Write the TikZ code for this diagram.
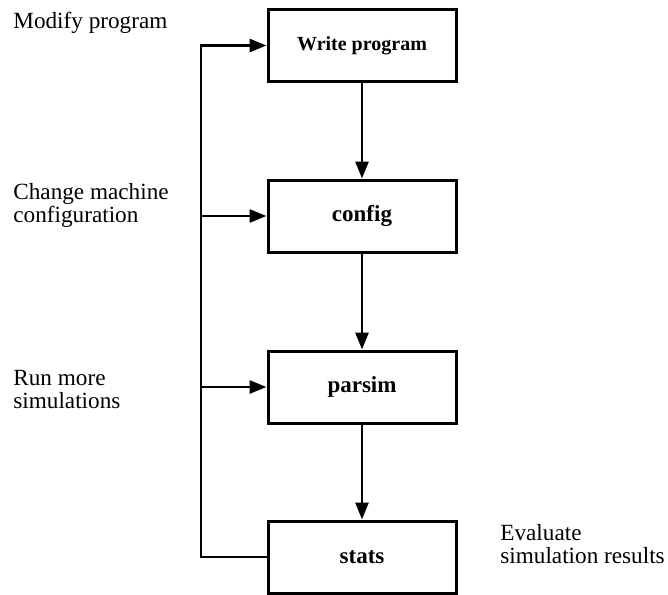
\documentclass[tikz,border=0pt]{standalone}
\usepackage{fontspec}
\setmainfont{Liberation Serif}
\usetikzlibrary{arrows.meta}

\def\boxwidth{94pt}
\def\labelsize{\fontsize{11.6}{11.5}\selectfont}

\tikzset{
  stepbox/.style={draw,line width=1.5pt,minimum width=\boxwidth,
    minimum height=36pt,inner sep=0pt,font=\bfseries\fontsize{11.5}{13}\selectfont},
  link/.style={line width=1.4pt,-{Triangle[length=8.5pt,width=6.5pt]}},
  note/.style={anchor=base west,align=left,inner sep=0pt,font=\labelsize}
}

\begin{document}
\begin{tikzpicture}[x=0.5pt,y=-0.5pt]
  \useasboundingbox (0,0) rectangle (668,594);
  % the four steps
  \node[stepbox,font=\bfseries\fontsize{10}{12}\selectfont] (write) at (362,45.5) {Write program};
  \node[stepbox] (config) at (362,216) {config};
  \node[stepbox] (parsim) at (362,387) {parsim};
  \node[stepbox] (stats)  at (362,557) {stats};
  % feedback spine on the left
  \coordinate (spine) at (201,45.5);

  \foreach \from/\to in {write/config,config/parsim,parsim/stats}
    \draw[link] (\from) -- (\to);          % main flow downwards

  \draw[link] (stats.west) -| (spine) -- (write.west);
  \foreach \name in {config,parsim}
    \draw[link] (spine |- \name.west) -- (\name.west);

  % remarks (base = last line)
  \node[note] (modify) at (13,28) {Modify program};
  \node[note] (change) at (13,222) {Change machine\\configuration};
  \node[note] (rerun)  at (13,408) {Run more\\simulations};
  \node[note] (eval)   at (500,563) {Evaluate\\simulation results};
\end{tikzpicture}
\end{document}
